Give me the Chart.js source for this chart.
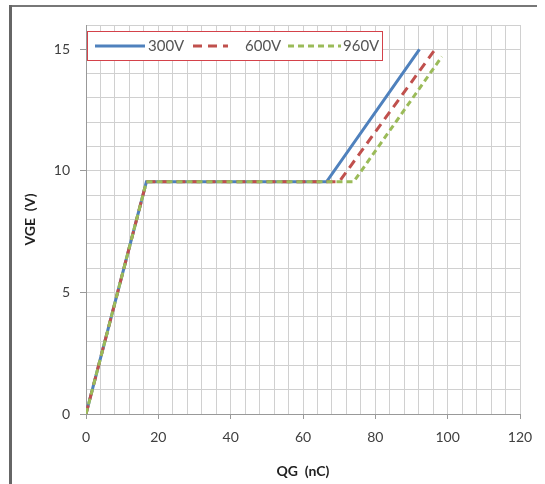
<!DOCTYPE html>
<html>
<head>
<meta charset="utf-8">
<script src="https://cdn.jsdelivr.net/npm/chart.js@4"></script>
<style>
  body { margin: 0; background: #fff; }
  #wrap { position: relative; width: 545px; height: 484px; }
</style>
</head>
<body>
<div id="wrap"><canvas id="myChart" width="545" height="484"></canvas></div>
<script>
// values
const labels = ["300V", "600V", "960V"];
const qg300 = [0, 16.7, 66.5, 92.2];
const vge300 = [0, 9.55, 9.55, 15];
const qg600 = [0, 16.7, 70, 96.3];
const vge600 = [0, 9.55, 9.55, 14.95];
const qg960 = [0, 16.7, 74, 98.4];
const vge960 = [0, 9.55, 9.55, 14.7];

const xTicks = [0, 20, 40, 60, 80, 100, 120];
const yTicks = [0, 5, 10, 15];

const colors = ["#4f81bd", "#c0504d", "#9bbb59"];
const dashes = [[], [9, 6], [6, 4]];

function pts(xs, ys) {
    return xs.map((x, i) => ({ x: x, y: ys[i] }));
}

const series = [pts(qg300, vge300), pts(qg600, vge600), pts(qg960, vge960)];

// grey frame at left and top, like the scanned datasheet
const framePlugin = {
    id: 'frame',
    afterDraw(chart) {
        const c = chart.ctx;
        c.save();
        c.strokeStyle = "#777";
        c.lineWidth = 2;
        c.beginPath();
        c.moveTo(10, 6);
        c.lineTo(537, 6);
        c.stroke();
        c.lineWidth = 3;
        c.strokeStyle = "#666";
        c.beginPath();
        c.moveTo(10.5, 5);
        c.lineTo(10.5, 484);
        c.stroke();
        c.restore();
    }
};

// legend box inside the plot area
const boxLegend = {
    id: 'boxLegend',
    afterDatasetsDraw(chart) {
        const c = chart.ctx;
        const x0 = 87, y0 = 31, w = 295, h = 29;
        c.save();
        c.fillStyle = "#fff";
        c.fillRect(x0, y0, w, h);
        c.strokeStyle = "#d4424a";
        c.lineWidth = 1;
        c.strokeRect(x0 + 0.5, y0 + 0.5, w, h);
        const items = [
            { a: 95, b: 145, t: 148 },
            { a: 193, b: 228, t: 245 },
            { a: 288, b: 341, t: 343 }
        ];
        const ly = y0 + 15;
        c.font = "15px Lato";
        c.textBaseline = "middle";
        chart.data.datasets.forEach((ds, i) => {
            const it = items[i];
            c.strokeStyle = ds.borderColor;
            c.lineWidth = 3;
            c.setLineDash(ds.borderDash || []);
            c.beginPath();
            c.moveTo(it.a, ly);
            c.lineTo(it.b, ly);
            c.stroke();
            c.setLineDash([]);
            c.fillStyle = "#555";
            c.fillText(ds.label, it.t, ly);
        });
        c.restore();
    }
};

const ctx = document.getElementById('myChart');
new Chart(ctx, {
    type: 'line',
    data: {
        datasets: series.map((d, i) => ({
            label: labels[i],
            data: d,
            borderColor: colors[i],
            backgroundColor: colors[i],
            borderWidth: 3,
            borderDash: dashes[i],
            pointRadius: 0,
            fill: false,
            tension: 0,
            order: 2 - i   // green on top, then red, then blue
        }))
    },
    options: {
        responsive: false,
        animation: false,
        events: [],
        layout: { padding: { left: 0, top: 25, right: 25, bottom: 0 } },
        plugins: {
            legend: { display: false },
            tooltip: { enabled: false }
        },
        scales: {
            x: {
                type: 'linear',
                min: 0,
                max: 120,
                afterBuildTicks: (scale) => {
                    const t = [];
                    for (let v = 0; v <= 120; v += 4) t.push({ value: v });
                    scale.ticks = t;
                },
                afterFit: (scale) => { scale.height = 70; },
                border: { color: "#999", width: 1 },
                grid: {
                    color: "#d0d0d0",
                    tickLength: 5,
                    tickColor: (c) => xTicks.includes(c.tick && c.tick.value) ? "#999" : "rgba(0,0,0,0)"
                },
                ticks: {
                    autoSkip: false,
                    maxRotation: 0,
                    padding: 10,
                    color: "#404040",
                    font: { family: "Lato", size: 14 },
                    callback: (v) => xTicks.includes(v) ? v : ''
                },
                title: {
                    display: true,
                    text: "QG  (nC)",
                    color: "#222",
                    font: { family: "Lato", size: 14, weight: 'bold' },
                    padding: { top: 0, bottom: 4 }
                }
            },
            y: {
                type: 'linear',
                min: 0,
                max: 16,
                afterBuildTicks: (scale) => {
                    const t = [];
                    for (let v = 0; v <= 16; v += 1) t.push({ value: v });
                    scale.ticks = t;
                },
                afterFit: (scale) => { scale.width = 86; },
                border: { color: "#999", width: 1 },
                grid: {
                    color: "#d0d0d0",
                    tickLength: 6,
                    tickColor: (c) => yTicks.includes(c.tick && c.tick.value) ? "#999" : "rgba(0,0,0,0)"
                },
                ticks: {
                    autoSkip: false,
                    padding: 10,
                    color: "#404040",
                    font: { family: "Lato", size: 14 },
                    callback: (v) => yTicks.includes(v) ? v : ''
                },
                title: {
                    display: true,
                    text: "VGE  (V)",
                    color: "#222",
                    font: { family: "Lato", size: 14, weight: 'bold' },
                    padding: { top: 22, bottom: 0 }
                }
            }
        }
    },
    plugins: [framePlugin, boxLegend]
});
</script>
</body>
</html>
